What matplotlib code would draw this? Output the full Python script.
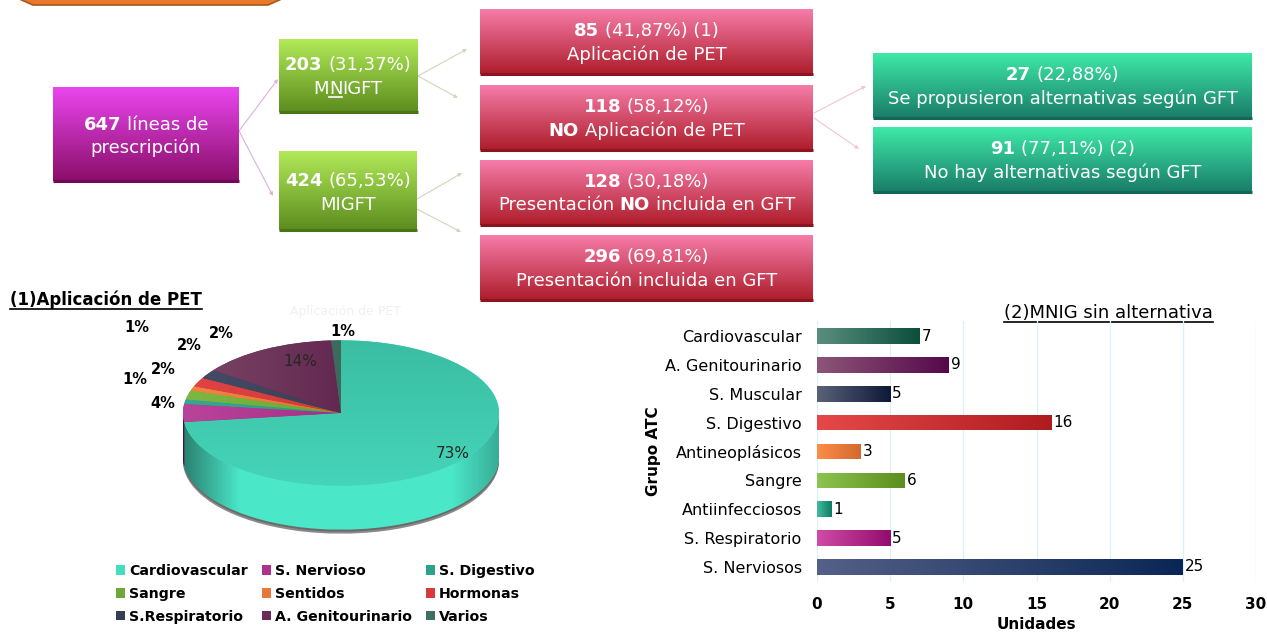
import numpy as np
import matplotlib
matplotlib.use('Agg')
import matplotlib.pyplot as plt
from matplotlib.patches import Rectangle, Polygon, Wedge, Patch
from matplotlib.transforms import Affine2D
from matplotlib.colors import to_rgb

# ---------------- data ----------------
total_lines = 647
group_counts = [203, 424]
group_pcts = ['31,37%', '65,53%']
pet_counts = [85, 118]
pet_pcts = ['41,87%', '58,12%']
pres_counts = [128, 296]
pres_pcts = ['30,18%', '69,81%']
alt_counts = [27, 91]
alt_pcts = ['22,88%', '77,11%']

pie_title = 'Aplicación de PET'
pie_labels = ['Cardiovascular', 'S. Nervioso', 'S. Digestivo', 'Sangre', 'Sentidos',
              'Hormonas', 'S.Respiratorio', 'A. Genitourinario', 'Varios']
pie_values = [73, 4, 1, 2, 1, 2, 2, 14, 1]

bar_title = '(2)MNIG sin alternativa'
bar_categories = ['Cardiovascular', 'A. Genitourinario', 'S. Muscular', 'S. Digestivo',
                  'Antineoplásicos', 'Sangre', 'Antiinfecciosos', 'S. Respiratorio',
                  'S. Nerviosos']
bar_values = [7, 9, 5, 16, 3, 6, 1, 5, 25]
bar_xticks = [0, 5, 10, 15, 20, 25, 30]

# ---------------- styles ----------------
FONT = 'DejaVu Sans'
W, H = 1267, 632
fig = plt.figure(figsize=(W / 100, H / 100), dpi=100)
fx = fig.add_axes([0, 0, 1, 1])
fx.axis('off')
fx.set_xlim(0, W)
fx.set_ylim(H, 0)
renderer = fig.canvas.get_renderer()


def grad(c1, c2, horizontal=True, n=256):
    a = np.array(to_rgb(c1))
    b = np.array(to_rgb(c2))
    t = np.linspace(0, 1, n)[:, None]
    g = a * (1 - t) + b * t
    return g[None, :, :] if horizontal else g[:, None, :]


def box(x0, y0, x1, y1, ctop, cbot, cedge):
    rect = Rectangle((x0, y0), x1 - x0, y1 - y0, facecolor=cbot, edgecolor='none', zorder=2)
    fx.add_patch(rect)
    im = fx.imshow(grad(ctop, cbot, False), extent=(x0, x1, y1, y0), origin='upper',
                   aspect='auto', zorder=3, interpolation='bilinear')
    im.set_clip_path(rect)
    fx.plot([x0, x1], [y1 - 0.5, y1 - 0.5], color=cedge, lw=2.2, zorder=4, solid_capstyle='butt')


def rich(xc, ybase, segs, size, color='white', family=FONT):
    """segs: list of (text, bold, underline); drawn centred on xc."""
    ta = fx.text(0, 0, 'x x', fontsize=size, family=family)
    tb = fx.text(0, 0, 'xx', fontsize=size, family=family)
    sp = ta.get_window_extent(renderer).width - tb.get_window_extent(renderer).width
    ta.remove()
    tb.remove()
    items = []
    for s, b, u in segs:
        lead = s.startswith(' ')
        st = s.strip()
        t = fx.text(0, ybase, st, fontsize=size, family=family, color=color,
                    fontweight='bold' if b else 'normal', ha='left', va='baseline', zorder=8)
        w = t.get_window_extent(renderer).width
        items.append((t, w, lead, u))
    total = sum(w + (sp if lead else 0) for _, w, lead, _ in items)
    x = xc - total / 2
    for t, w, lead, u in items:
        if lead:
            x += sp
        t.set_x(x)
        if u:
            fx.plot([x, x + w], [ybase + 2.5, ybase + 2.5], color=color, lw=1.2, zorder=8)
        x += w


def arrow(p0, p1, color):
    fx.annotate('', xy=p1, xytext=p0,
                arrowprops=dict(arrowstyle='-|>', color=color, lw=0.8, mutation_scale=5,
                                shrinkA=0, shrinkB=0), zorder=1)


# top orange shape (cut off)
fx.add_patch(Polygon([(8, -6), (33, 5), (268, 5), (293, -6)], closed=True,
                     facecolor='#E8792B', edgecolor='#A8561C', lw=1.2, zorder=2))

FS = 13
# magenta box
box(53, 87, 239, 181, '#EA46EE', '#8A0E6A', '#720856')
rich(146, 130, [(str(total_lines), True, False), (' líneas de', False, False)], FS)
rich(146, 153, [('prescripción', False, False)], FS)

# green boxes
gtop, gbot, gedge = '#B2EA58', '#5C8C1E', '#4A7516'
box(279, 39, 418, 112, gtop, gbot, gedge)
rich(348, 70, [(str(group_counts[0]), True, False), (' (' + group_pcts[0] + ')', False, False)], FS)
rich(348, 94, [('M', False, False), ('N', False, True), ('IGFT', False, False)], FS)
box(279, 151, 417, 230, gtop, gbot, gedge)
rich(348, 186, [(str(group_counts[1]), True, False), (' (' + group_pcts[1] + ')', False, False)], FS)
rich(348, 210, [('MIGFT', False, False)], FS)

# pink boxes
ptop, pbot, pedge = '#F67DA9', '#AE1C2A', '#8A1520'
pink_boxes = [(9, 74), (85, 150), (160, 225), (235, 300)]
pink_texts = [
    ([(str(pet_counts[0]), True, False), (' (' + pet_pcts[0] + ') (1)', False, False)],
     [('Aplicación de PET', False, False)]),
    ([(str(pet_counts[1]), True, False), (' (' + pet_pcts[1] + ')', False, False)],
     [('NO', True, False), (' Aplicación de PET', False, False)]),
    ([(str(pres_counts[0]), True, False), (' (' + pres_pcts[0] + ')', False, False)],
     [('Presentación', False, False), (' NO', True, False), (' incluida en GFT', False, False)]),
    ([(str(pres_counts[1]), True, False), (' (' + pres_pcts[1] + ')', False, False)],
     [('Presentación incluida en GFT', False, False)]),
]
for (y0, y1), (l1, l2) in zip(pink_boxes, pink_texts):
    box(480, y0, 813, y1, ptop, pbot, pedge)
    yc = (y0 + y1) / 2
    rich(646.5, yc - 5.5, l1, FS)
    rich(646.5, yc + 18, l2, FS)

# teal boxes
ttop, tbot, tedge = '#3EEAA8', '#197C68', '#146656'
teal_boxes = [(53, 118), (127, 192)]
teal_texts = [
    ([(str(alt_counts[0]), True, False), (' (' + alt_pcts[0] + ')', False, False)],
     [('Se propusieron alternativas según GFT', False, False)]),
    ([(str(alt_counts[1]), True, False), (' (' + alt_pcts[1] + ') (2)', False, False)],
     [('No hay alternativas según GFT', False, False)]),
]
for (y0, y1), (l1, l2) in zip(teal_boxes, teal_texts):
    box(873, y0, 1252, y1, ttop, tbot, tedge)
    yc = (y0 + y1) / 2
    rich(1062.5, yc - 5.5, l1, FS)
    rich(1062.5, yc + 18, l2, FS)

# connectors
arrow((239, 131), (278, 79), '#DDB0DD')
arrow((239, 131), (273, 196), '#DDB0DD')
arrow((418, 76), (467, 49), '#CCD8B8')
arrow((418, 76), (458, 98), '#CCD8B8')
arrow((417, 199), (462, 173), '#CCD8B8')
arrow((415, 208), (461, 232), '#CCD8B8')
arrow((814, 113), (866, 86), '#F2C4D2')
arrow((814, 118), (859, 149), '#F2C4D2')

# ---------------- pie ----------------
pie_top_colors = ['#45DDC0', '#B0308C', '#2FA08A', '#6FA83A', '#E8783A',
                  '#D83A3A', '#353D55', '#6B2B5A', '#3F6E62']
pie_grads = [('#3BBDA2', '#45D5B9'), ('#B8449A', '#961872'), ('#36A892', '#238A74'),
             ('#7CB844', '#5E9428'), ('#F08440', '#D86A2C'), ('#E04444', '#C42A2A'),
             ('#454E66', '#2A3048'), ('#7C4868', '#4A0838'), ('#4A7A6C', '#2E5C50')]
pie_side_colors = ['#4BE7C9', '#8A1A6A', '#24806C', '#5A8A2A', '#C0602A',
                   '#A82828', '#282E40', '#4A1A40', '#2E5048']

cx, cy, R, s, depth = 341, 413, 158, 0.46, 44


def ptrans(dy=0.0):
    return Affine2D().translate(-cx, -cy).scale(1, -s).translate(cx, cy + dy) + fx.transData


wedges, _ = fx.pie(pie_values, colors=pie_top_colors, startangle=90, counterclock=False,
                   center=(cx, cy), radius=R, frame=True, wedgeprops=dict(linewidth=0))
for w in wedges:
    w.set_transform(ptrans())
    w.set_zorder(6)

# shadow rim and side walls
for k in range(depth + 4, 0, -1):
    for w, sc in zip(wedges, pie_side_colors):
        col = ('#8A8A8A' if k > depth + 2 else '#6A6A6A') if k > depth else sc
        fx.add_patch(Wedge((cx, cy), R, w.theta1, w.theta2, transform=ptrans(k),
                           facecolor=col, edgecolor='none', lw=0, zorder=4))

# side shading (darker towards the left/right ends of the cylinder wall)
tt = np.radians(np.linspace(180, 360, 181))
side_pts = np.concatenate([
    np.column_stack([cx + R * np.cos(tt), cy + R * np.sin(tt)]),
    np.column_stack([cx + R * np.cos(tt[::-1]), cy + R * np.sin(tt[::-1]) - depth / s])])
side_poly = Polygon(side_pts, closed=True, transform=ptrans(), facecolor='none',
                    edgecolor='none')
fx.add_patch(side_poly)
xs = np.linspace(0, 1, 256)
alpha = np.clip(0.45 * (1 - xs / 0.18), 0, None) + np.clip(0.25 * (xs - 0.85) / 0.15, 0, None)
shade = np.zeros((1, 256, 4))
shade[0, :, 3] = alpha
sh = fx.imshow(shade, extent=(cx - R, cx + R, cy + R * s + depth, cy), origin='upper',
               aspect='auto', zorder=5, interpolation='bilinear')
sh.set_clip_path(side_poly)

# gradient tops
for i, (w, (c1, c2)) in enumerate(zip(wedges, pie_grads)):
    img = grad(c1, c2, horizontal=(i != 0))
    im = fx.imshow(img, extent=(cx - R, cx + R, cy + R * s, cy - R * s), origin='upper',
                   aspect='auto', zorder=7, interpolation='bilinear')
    im.set_clip_path(w)

# labels (offsets from pie centre in pixels: dx, dy up)
pie_label_offsets = [(112, -40), (-178, 10), (-206, 33), (-178, 43), (-204, 85),
                     (-152, 68), (-120, 80), (-41, 51), (2, 81)]
for i, (v, (dx, dy)) in enumerate(zip(pie_values, pie_label_offsets)):
    inside = i in (0, 7)
    fx.text(cx + dx, cy - dy, f'{v}%', fontsize=11 if inside else 10.5,
            fontweight='normal' if inside else 'bold', color='#262626' if inside else 'black',
            ha='center', va='center', family=FONT, zorder=9)

fx.text(345, 311, pie_title, fontsize=9, color='#F0F0F0', ha='center', va='center', zorder=9)

# section title (1)
t1 = fx.text(10, 300, '(1)' + pie_title, fontsize=12, fontweight='bold',
             family=FONT, ha='left', va='center', color='black')
bb = t1.get_window_extent(renderer)
fx.plot([10, 10 + bb.width], [309, 309], color='black', lw=1.2)

# legend (row-major order as in the reference)
order = [0, 3, 6, 1, 4, 7, 2, 5, 8]
handles = [Patch(facecolor=pie_top_colors[i], edgecolor='none') for i in order]
labels = [pie_labels[i] for i in order]
fx.legend(handles, labels, ncol=3, loc='upper left', bbox_to_anchor=(116, 564),
          bbox_transform=fx.transData, frameon=False,
          prop=dict(family=FONT, weight='bold', size=10.2),
          handlelength=0.65, handleheight=0.65, handletextpad=0.3,
          columnspacing=0.95, labelspacing=0.62, borderpad=0, borderaxespad=0)

fx.set_aspect('auto')
fx.set_xlim(0, W)
fx.set_ylim(H, 0)
fx.axis('off')

# ---------------- bar chart ----------------
bar_grads = [('#5A8F7F', '#0C4D3B'), ('#8C5678', '#55084A'), ('#5A6278', '#0E1838'),
             ('#E64848', '#AE1C20'), ('#FF8C48', '#D26A30'), ('#8CC450', '#5C8E1C'),
             ('#42BC9C', '#0F7C64'), ('#D04CA6', '#920C6E'), ('#546088', '#0A2656')]

bax = fig.add_axes([817 / W, 1 - 582 / H, 439 / W, 261 / H])
bax.patch.set_facecolor('none')
ypos = np.arange(len(bar_categories))
bars = bax.barh(ypos, bar_values, height=0.54, color=[g[1] for g in bar_grads], zorder=2)
for b, (c1, c2) in zip(bars, bar_grads):
    x0, y0, bw, bh = b.get_x(), b.get_y(), b.get_width(), b.get_height()
    im = bax.imshow(grad(c1, c2, True), extent=(x0, x0 + bw, y0 + bh, y0), origin='upper',
                    aspect='auto', zorder=3, interpolation='bilinear')
    im.set_clip_path(b)
bax.bar_label(bars, padding=1.5, fontsize=11, family=FONT, color='black')
bax.set_xlim(0, 30)
bax.set_ylim(len(bar_categories) - 0.48, -0.52)
bax.set_xticks(bar_xticks)
bax.set_yticks(ypos)
bax.set_yticklabels(bar_categories, fontsize=11.5, family=FONT)
bax.tick_params(axis='both', length=0)
bax.tick_params(axis='y', pad=11)
bax.tick_params(axis='x', pad=11, labelsize=11)
for lab in bax.get_xticklabels():
    lab.set_fontweight('bold')
bax.grid(axis='x', color='#DCF2F8', lw=0.9, zorder=0)
for sp in bax.spines.values():
    sp.set_visible(False)
bax.set_xlabel('Unidades', fontsize=11, fontweight='bold', family=FONT)
bax.xaxis.set_label_coords(0.5, -0.135)
bax.set_ylabel('Grupo ATC', fontsize=11, fontweight='bold', family=FONT)
bax.yaxis.set_label_coords(-0.355, 0.5)

t2 = fx.text(1213, 313, bar_title, fontsize=13, family=FONT,
             ha='right', va='center', color='black')
bb2 = t2.get_window_extent(renderer)
fx.plot([1213 - bb2.width, 1213], [322, 322], color='black', lw=1.2)

fig.savefig('out.png', dpi=100)
